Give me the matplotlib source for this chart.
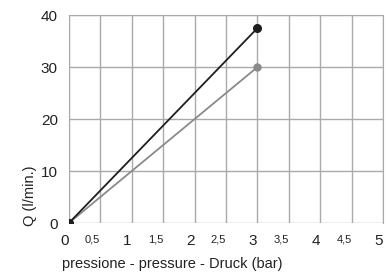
import matplotlib
matplotlib.use("Agg")
import matplotlib.pyplot as plt

plt.rcParams['font.family'] = ['Liberation Sans Narrow', 'Liberation Sans', 'DejaVu Sans']

# pressure (bar) vs flow Q (l/min)
pressure = [0, 3]
flow_dark = [0, 37.5]
flow_light = [0, 30]

x_ticks = [0, 0.5, 1, 1.5, 2, 2.5, 3, 3.5, 4, 4.5, 5]
x_labels = ["0", "0,5", "1", "1,5", "2", "2,5", "3", "3,5", "4", "4,5", "5"]
y_ticks = [0, 10, 20, 30, 40]

fig = plt.figure(figsize=(3.87, 2.75), dpi=100)
ax = fig.add_axes([0.178, 0.189, 0.812, 0.756])

ax.plot(pressure, flow_light, color="#8a8a8a", lw=1.3, marker="o", ms=5, zorder=3)
ax.plot(pressure, flow_dark, color="#1e1e1e", lw=1.3, marker="o", ms=5.5, zorder=4)

ax.set_xlim(0, 5)
ax.set_ylim(0, 40)
ax.set_xticks(x_ticks)
ax.set_xticklabels(x_labels, ha="right")
ax.set_yticks(y_ticks)
for lab, v in zip(ax.get_xticklabels(), x_ticks):
    lab.set_fontsize(11 if v == int(v) else 8)
for lab in ax.get_yticklabels():
    lab.set_fontsize(11)

ax.grid(True, color="#aaaaaa", lw=1)
ax.tick_params(length=0, pad=8, colors="#222222")
for s in ["top", "left", "right"]:
    ax.spines[s].set_color("#aaaaaa")
ax.spines["bottom"].set_visible(False)
ax.set_axisbelow(True)

fig.text(0.445, 0.04, "pressione - pressure - Druck (bar)", fontsize=10.5,
         ha="center", va="center", color="#222222")
fig.text(0.078, 0.29, "Q (l/min.)", fontsize=10.5, rotation=90,
         ha="center", va="center", color="#222222")

fig.savefig("out.png", dpi=100)
